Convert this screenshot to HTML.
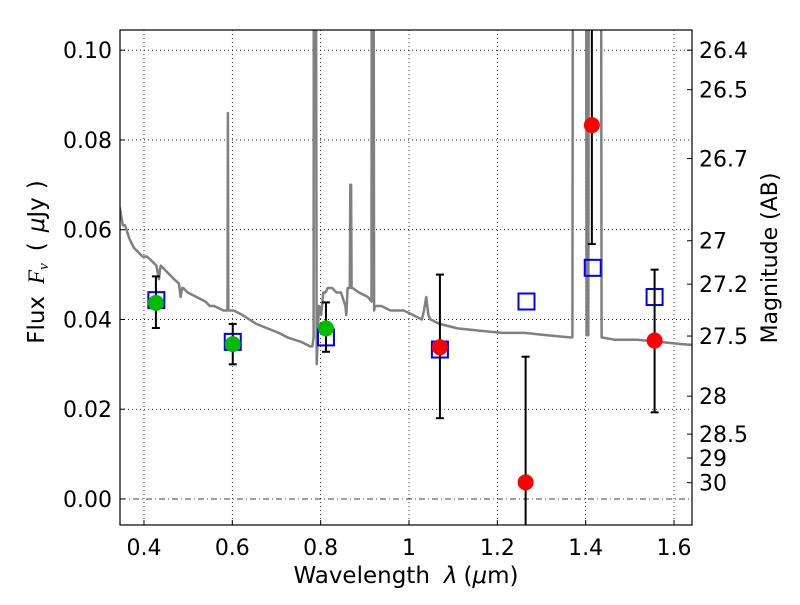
<!DOCTYPE html>
<html><head><meta charset="utf-8"><style>
body{margin:0;background:#fff;}
svg text{font-family:"DejaVu Sans","Liberation Sans",sans-serif;}
</style></head><body>
<svg id="c" width="800" height="600" xmlns="http://www.w3.org/2000/svg"></svg>
<script>
const specX=[0.345,0.352,0.357,0.367,0.377,0.387,0.397,0.407,0.418,0.428,0.434,0.436,0.438,0.448,0.458,0.468,0.479,0.483,0.486,0.489,0.499,0.519,0.539,0.549,0.559,0.580,0.589,0.590,0.591,0.593,0.603,0.623,0.654,0.705,0.725,0.756,0.776,0.781,0.784,0.785,0.788,0.791,0.796,0.801,0.806,0.811,0.816,0.826,0.836,0.846,0.856,0.858,0.861,0.866,0.867,0.869,0.870,0.872,0.887,0.907,0.915,0.916,0.919,0.921,0.923,0.937,0.958,0.988,1.009,1.029,1.034,1.039,1.044,1.049,1.069,1.110,1.161,1.211,1.262,1.313,1.364,1.370,1.372,1.400,1.402,1.406,1.408,1.434,1.436,1.465,1.516,1.567,1.617,1.645];
const specY=[0.065,0.061,0.061,0.058,0.056,0.055,0.054,0.054,0.053,0.052,0.049,0.051,0.052,0.051,0.050,0.049,0.048,0.045,0.047,0.047,0.046,0.045,0.044,0.043,0.043,0.042,0.042,0.086,0.042,0.042,0.042,0.041,0.039,0.037,0.036,0.035,0.034,0.034,0.036,0.2,0.2,0.03,0.043,0.041,0.046,0.046,0.047,0.047,0.046,0.046,0.043,0.041,0.047,0.047,0.07,0.07,0.047,0.047,0.046,0.045,0.044,0.2,0.2,0.042,0.043,0.043,0.042,0.042,0.041,0.040,0.042,0.045,0.041,0.040,0.039,0.038,0.0375,0.037,0.037,0.0365,0.036,0.036,0.2,0.2,0.0365,0.0365,0.2,0.2,0.036,0.0355,0.0355,0.035,0.0345,0.0343];
const photX=[0.427,0.601,0.812,1.070,1.264,1.414,1.556];
const photY=[0.0437,0.0345,0.0380,0.0338,0.0037,0.0833,0.0353];
const errLo=[0.0381,0.0300,0.0328,0.0180,-0.02,0.0568,0.0193];
const errHi=[0.0496,0.0390,0.0438,0.0500,0.0317,0.2,0.0511];
const photColor=['#00bb00','#00bb00','#00bb00','red','red','red','red'];
const modelX=[0.428,0.601,0.812,1.070,1.266,1.416,1.556];
const modelY=[0.0443,0.0350,0.0360,0.0333,0.0440,0.0515,0.0450];
const xTicks=[0.4,0.6,0.8,1.0,1.2,1.4,1.6];
const xTickLabels=['0.4','0.6','0.8','1','1.2','1.4','1.6'];
const yTicks=[0,0.02,0.04,0.06,0.08,0.10];
const yTickLabels=['0.00','0.02','0.04','0.06','0.08','0.10'];
const magTicks=[26.4,26.5,26.7,27,27.2,27.5,28,28.5,29,30];
const magLabels=['26.4','26.5','26.7','27','27.2','27.5','28','28.5','29','30'];

const L=120,R=692,T=30,B=525;
const X0=0.3457,X1=1.6407,Y0=-0.0058,Y1=0.1045;
const sx=v=>L+(v-X0)/(X1-X0)*(R-L);
const sy=v=>B-(v-Y0)/(Y1-Y0)*(B-T);
const svg=document.getElementById('c');
const NS='http://www.w3.org/2000/svg';
function el(tag,attrs,parent){const e=document.createElementNS(NS,tag);for(const k in attrs)e.setAttribute(k,attrs[k]);(parent||svg).appendChild(e);return e;}
const defs=el('defs',{});const cp=el('clipPath',{id:'clip'},defs);el('rect',{x:L,y:T,width:R-L,height:B-T},cp);

xTicks.forEach((v,i)=>{
 const g=el('line',{x1:sx(v),x2:sx(v),y1:T,y2:B,stroke:'#000','stroke-width':0.8,'stroke-dasharray':'1,3'});
 
 
 el('line',{x1:sx(v),x2:sx(v),y1:B,y2:B-5,stroke:'#000'});
 const lb=el('text',{x:sx(v),y:B+30,'font-size':22,'text-anchor':'middle'});lb.textContent=xTickLabels[i];
 
 
});
yTicks.forEach((v,i)=>{
 const g=el('line',{x1:L,x2:R,y1:sy(v),y2:sy(v),stroke:'#000','stroke-width':0.8,'stroke-dasharray':v===0?'6,3,1,3':'1,3'});
 
 
 el('line',{x1:L,x2:L+5,y1:sy(v),y2:sy(v),stroke:'#000'});
 const lb=el('text',{x:L-8,y:sy(v)+8,'font-size':22,'text-anchor':'end'});lb.textContent=yTickLabels[i];
 
 
});
magTicks.forEach((m,i)=>{
 const f=Math.pow(10,(23.9-m)/2.5);const y=sy(f);
 el('line',{x1:R,x2:R-5,y1:y,y2:y,stroke:'#000'});
 const lb=el('text',{x:R+7,y:y+8,'font-size':22});lb.textContent=magLabels[i];
 
 
});

const g=el('g',{'clip-path':'url(#clip)'});
const d=specX.map((x,i)=>(i?'L':'M')+sx(x).toFixed(1)+','+sy(specY[i]).toFixed(1)).join('');
const sp=el('path',{d:d,fill:'none',stroke:'#808080','stroke-width':2.5,'stroke-linejoin':'round'},g);



modelX.forEach((x,i)=>{
 const r=el('rect',{x:sx(x)-8,y:sy(modelY[i])-8,width:16,height:16,fill:'none',stroke:'#0000ff','stroke-width':2},g);
 
 
});
photX.forEach((x,i)=>{
 const cx=sx(x);
 const e=el('line',{x1:cx,x2:cx,y1:sy(errLo[i]),y2:sy(errHi[i]),stroke:'#000','stroke-width':2},g);
 
 
 [errLo[i],errHi[i]].forEach(v=>el('line',{x1:cx-4,x2:cx+4,y1:sy(v),y2:sy(v),stroke:'#000','stroke-width':2},g));
 const c=el('circle',{cx:cx,cy:sy(photY[i]),r:8,fill:photColor[i]},g);
 
 
});

const fr=el('rect',{x:L,y:T,width:R-L,height:B-T,fill:'none',stroke:'#000','stroke-width':1.2});



const xt=el('text',{x:406,y:583,'font-size':23,'text-anchor':'middle'});
xt.innerHTML='Wavelength<tspan dx="14" font-style="italic">λ</tspan><tspan dx="6">(</tspan><tspan font-style="italic">μ</tspan>m)';


const yt=el('text',{x:0,y:0,'font-size':23,'text-anchor':'middle',transform:'translate(44,262) rotate(-90)'});
yt.innerHTML='Flux<tspan dx="12" font-family="Liberation Serif" font-style="italic">F</tspan><tspan font-family="Liberation Serif" font-style="italic" font-size="15" dy="4">ν</tspan><tspan dx="12" dy="-4">(</tspan><tspan dx="10" font-style="italic">μ</tspan>Jy<tspan dx="8">)</tspan>';


const rt=el('text',{x:0,y:0,'font-size':22,'text-anchor':'middle',transform:'translate(777,258) rotate(-90)'});
rt.textContent='Magnitude (AB)';


</script>
</body></html>
